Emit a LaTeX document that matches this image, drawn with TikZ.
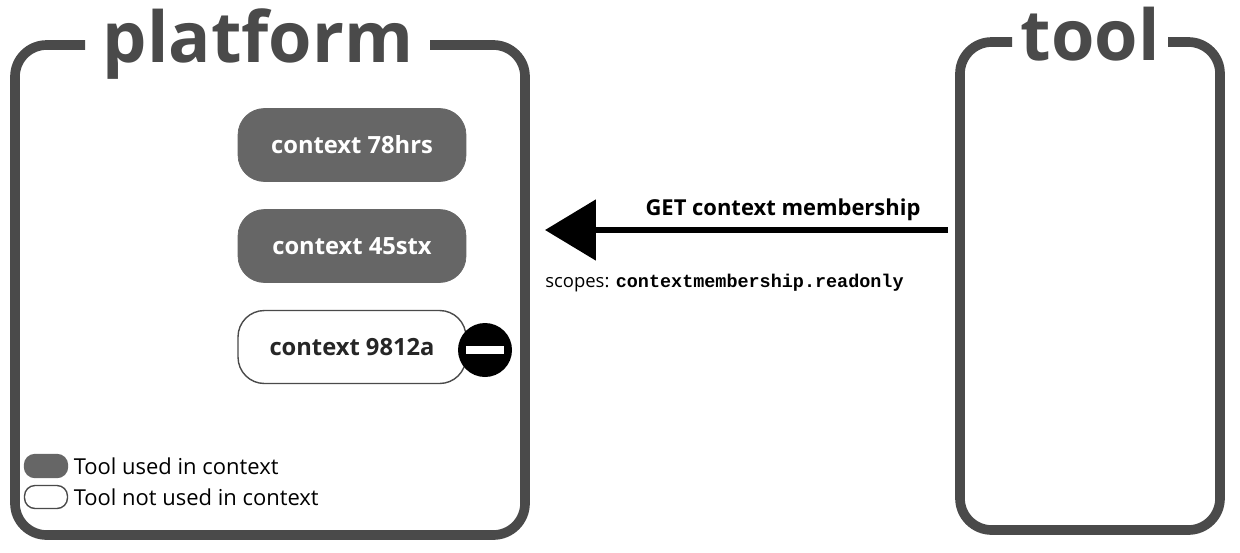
\documentclass[tikz,border=0pt]{standalone}
\usepackage{fontspec}
\setmainfont{Open Sans}
\setmonofont{Liberation Mono}
\usetikzlibrary{arrows.meta,positioning}
\definecolor{frame}{HTML}{4A4A4A}
\definecolor{pill}{HTML}{666666}
\tikzset{
  box/.style={draw=frame,line width=5.5pt,rounded corners=18pt},
  used/.style={rounded corners=15pt,fill=pill,draw=pill,minimum width=4.56cm,minimum height=1.46cm,text=white,font=\bfseries\fontsize{13.5}{16}\selectfont},
  unused/.style={used,fill=white,draw=frame,line width=0.8pt,text=black!85},
  mini/.style={rounded corners=6pt,minimum width=0.86cm,minimum height=0.46cm,line width=0.8pt}
}
\begin{document}
\begin{tikzpicture}[x=0.02cm,y=-0.02cm]
\useasboundingbox (0,0) rectangle (1240,552);
% platform frame
\draw[box] (85,45) -- (15,45) -- (15,535) -- (525,535) -- (525,45) -- (430,45);
\node[font=\bfseries\fontsize{40}{40}\selectfont,text=frame] (platform) at (258,44) {platform};
% tool frame
\draw[box] (1012,42) -- (960,42) -- (960,530) -- (1220,530) -- (1220,42) -- (1168,42);
\node[font=\bfseries\fontsize{40}{40}\selectfont,text=frame] (tool) at (1090,34) {tool};
% contexts
\node[used] (c1) at (352,145) {context 78hrs};
\node[used] (c2) at (352,246) {context 45stx};
\node[unused] (c3) at (352,347) {context 9812a};
\node[circle,fill=black,minimum size=54*0.02cm] (minus) at (485,350) {};
\fill[white] ([xshift=-11pt,yshift=-2.3pt]minus.center) rectangle ([xshift=11pt,yshift=2.3pt]minus.center);
% request
\coordinate (src) at (948,230);
\coordinate (dst) at (545,230);
\draw[line width=3.5pt,-{Triangle[length=29pt,width=34pt]}] (src) -- (dst);
\node[font=\bfseries\fontsize{12.5}{14}\selectfont] (get) at (783,210) {GET context membership};
\node[anchor=west,inner sep=0pt,font=\fontsize{10.5}{12}\selectfont] (scopes) at (545,283)
  {scopes: \texttt{\bfseries contextmembership.readonly}};
% legend
\node[mini,fill=pill,draw=pill] (k1) at (46,466) {};
\node[mini,draw=frame,fill=white] (k2) at (46,497) {};
\node[right=3pt of k1,inner sep=0pt,font=\fontsize{12.5}{14}\selectfont] {Tool used in context};
\node[right=3pt of k2,inner sep=0pt,font=\fontsize{12.5}{14}\selectfont] {Tool not used in context};
\end{tikzpicture}
\end{document}
